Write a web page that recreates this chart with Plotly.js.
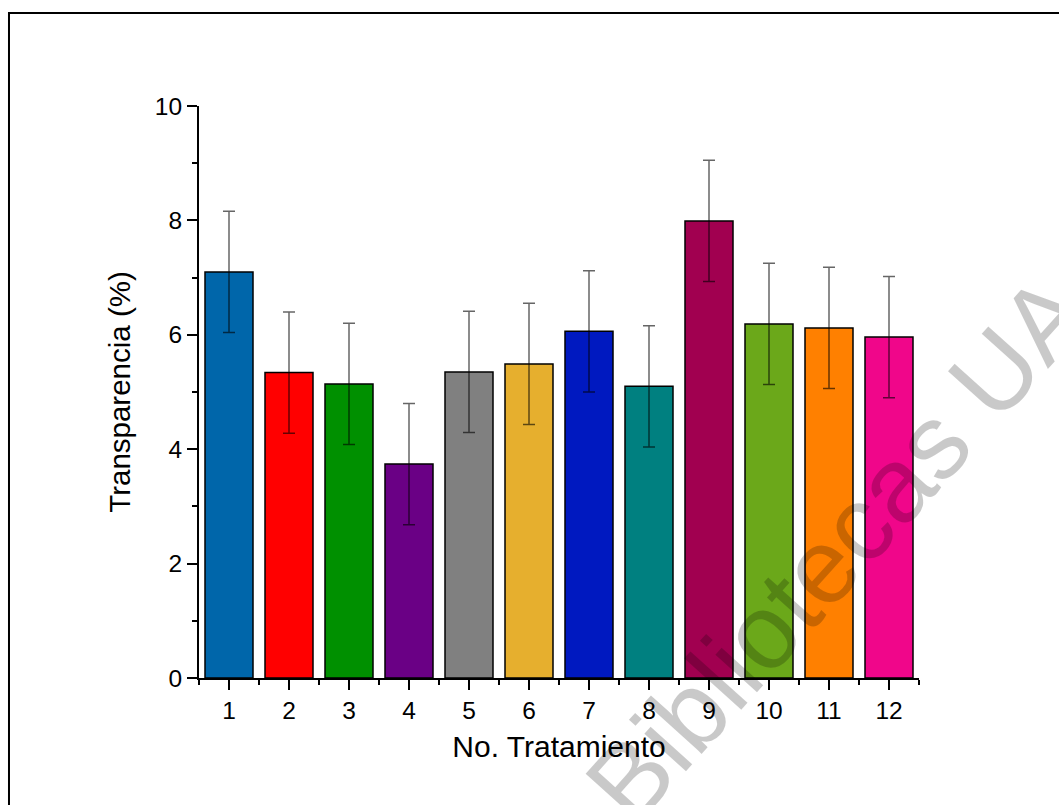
<!DOCTYPE html>
<html>
<head>
<meta charset="utf-8">
<script src="https://cdn.plot.ly/plotly-3.0.1.min.js"></script>
<style>html,body{margin:0;padding:0;background:#fff;}#chart{width:1059px;height:805px;}</style>
</head>
<body>
<div id="chart"></div>
<script>
const treatments = [1, 2, 3, 4, 5, 6, 7, 8, 9, 10, 11, 12];
const transparency = [7.10, 5.34, 5.14, 3.74, 5.35, 5.49, 6.06, 5.10, 7.99, 6.19, 6.12, 5.96];
const errors = [1.06, 1.06, 1.06, 1.06, 1.06, 1.06, 1.06, 1.06, 1.06, 1.06, 1.06, 1.06];
const barColors = ['#0066AA', '#FF0000', '#009000', '#6A0085', '#808080', '#E6AF2E',
                   '#0019C0', '#008080', '#A10050', '#6BA81A', '#FF8000', '#F0068A'];
const xTitle = 'No. Tratamiento';
const yTitle = 'Transparencia (%)';
const watermark = 'Bibliotecas UA';

const font = 'Liberation Sans, Arial, sans-serif';

const trace = {
  type: 'bar',
  x: treatments,
  y: transparency,
  width: 0.8,
  marker: {color: barColors, line: {color: '#000', width: 1.5}},
  error_y: {type: 'data', array: errors, visible: true, color: 'rgba(0,0,0,0.6)', thickness: 1.5, width: 6},
  hoverinfo: 'x+y'
};

const layout = {
  width: 1059, height: 805,
  margin: {l: 199, r: 140, t: 106, b: 127, pad: 0},
  paper_bgcolor: '#fff', plot_bgcolor: '#fff',
  showlegend: false,
  font: {family: font, color: '#000'},
  xaxis: {
    type: 'linear', range: [0.5, 12.5], tick0: 1, dtick: 1,
    showgrid: false, zeroline: false, showline: true, linecolor: '#000', linewidth: 2,
    ticks: 'outside', ticklen: 10, tickwidth: 2, tickcolor: '#000',
    minor: {dtick: 0.5, ticks: 'outside', ticklen: 5, tickwidth: 2, tickcolor: '#000', showgrid: false},
    tickfont: {size: 24.5, family: font},
    title: {text: xTitle, font: {size: 30, family: font}, standoff: 13}
  },
  yaxis: {
    range: [0, 10], tick0: 0, dtick: 2,
    showgrid: false, zeroline: false, showline: true, linecolor: '#000', linewidth: 2,
    ticks: 'outside', ticklen: 10, tickwidth: 2, tickcolor: '#000',
    minor: {dtick: 1, ticks: 'outside', ticklen: 5, tickwidth: 2, tickcolor: '#000', showgrid: false},
    tickfont: {size: 24.5, family: font},
    title: {text: yTitle, font: {size: 29.5, family: font}, standoff: 16}
  },
  shapes: [{
    type: 'rect', xref: 'paper', yref: 'paper',
    x0: -0.2639, x1: 1.25, y0: -0.26, y1: 1.1626,
    line: {color: '#000', width: 2}, fillcolor: 'rgba(0,0,0,0)', layer: 'below'
  }],
  annotations: [{
    text: watermark, xref: 'paper', yref: 'paper', x: 0.886, y: 0.228,
    showarrow: false, textangle: -48,
    font: {size: 106, family: font, color: 'rgba(0,0,0,0.21)'},
    xanchor: 'center', yanchor: 'middle'
  }]
};

Plotly.newPlot('chart', [trace], layout, {displayModeBar: false, staticPlot: true});
</script>
</body>
</html>
